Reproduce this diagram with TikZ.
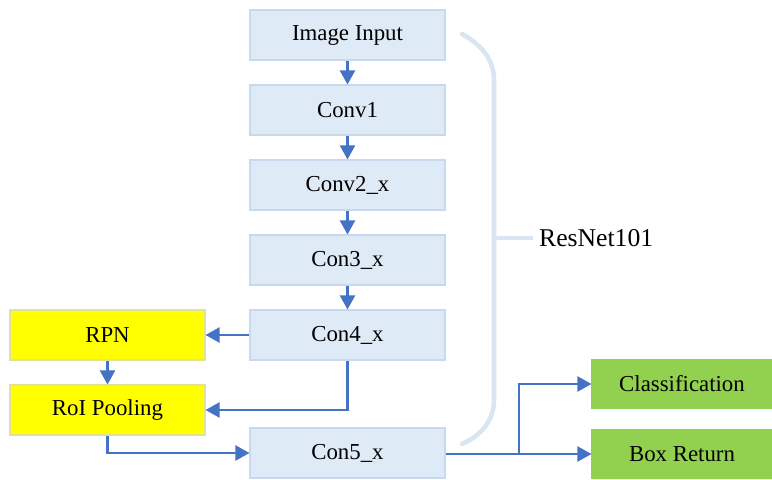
\documentclass[tikz,border=0pt]{standalone}
\usepackage{fontspec}
\setmainfont{Liberation Serif}
\usetikzlibrary{arrows.meta,positioning,calc}
\definecolor{BoxBlue}{RGB}{222,234,246}
\definecolor{BoxBlueLine}{RGB}{200,216,238}
\definecolor{BoxYellow}{RGB}{255,255,0}
\definecolor{BoxYellowLine}{RGB}{226,226,150}
\definecolor{BoxGreen}{RGB}{146,208,80}
\definecolor{ArrowBlue}{RGB}{68,114,196}
\definecolor{BraceBlue}{RGB}{218,229,242}
\tikzset{
  layer/.style={draw=BoxBlueLine, fill=BoxBlue, line width=0.6pt, minimum width=3.9cm, minimum height=1.0cm, inner sep=0pt},
  region/.style={draw=BoxYellowLine, fill=BoxYellow, line width=0.6pt, minimum width=3.9cm, minimum height=1.0cm, inner sep=0pt},
  head/.style={draw=BoxGreen, fill=BoxGreen, line width=0.6pt, minimum width=3.6cm, minimum height=0.96cm, inner sep=0pt},
  arrow/.style={-{Triangle[length=2.8mm,width=3mm]}, line width=1.2pt, draw=ArrowBlue},
  brace/.style={draw=BraceBlue, line width=2.6pt, line cap=round}
}

\begin{document}
\begin{tikzpicture}[x=0.02cm,y=-0.02cm, font=\fontsize{13}{15}\selectfont]
\useasboundingbox (0,0) rectangle (772,480);
\node[layer] (input) at (347.5,35) {Image Input};
\node[layer] (conv1) at (347.5,110) {Conv1};
\node[layer] (conv2) at (347.5,185) {Conv2\_x};
\node[layer] (con3) at (347.5,260) {Con3\_x};
\node[layer] (con4) at (347.5,335) {Con4\_x};
\node[layer] (con5) at (347.5,453) {Con5\_x};
\node[region] (rpn) at (107.5,335) {RPN};
\node[region] (roi) at (107.5,410) {RoI Pooling};
\node[head] (cls) at (682,384) {Classification};
\node[head] (box) at (682,454) {Box Return};
\node[anchor=west, font=\fontsize{14.6}{17}\selectfont] (resnet) at (533,238) {ResNet101};

% backbone
\draw[arrow] (input) -- (conv1);
\draw[arrow] (conv1) -- (conv2);
\draw[arrow] (conv2) -- (con3);
\draw[arrow] (con3) -- (con4);
% region branch
\draw[arrow] (con4) -- (rpn);
\draw[arrow] (rpn) -- (roi);
\draw[arrow] (con4.south) |- (roi.east);
\draw[arrow] (roi.south) |- (con5.west);
% heads
\coordinate (split) at (519,454);
\draw[arrow] (con5.east |- split) -- (box.west);
\draw[arrow] (split) |- (cls.west);

% brace round the backbone
\draw[brace] (462,34) .. controls (482,45) and (494,60) .. (494,80)
  -- (494,400) .. controls (494,420) and (482,435) .. (462,444);
\coordinate (tick) at (494,238);
\draw[brace, line cap=butt] (tick) -- (resnet.west);
\end{tikzpicture}
\end{document}
